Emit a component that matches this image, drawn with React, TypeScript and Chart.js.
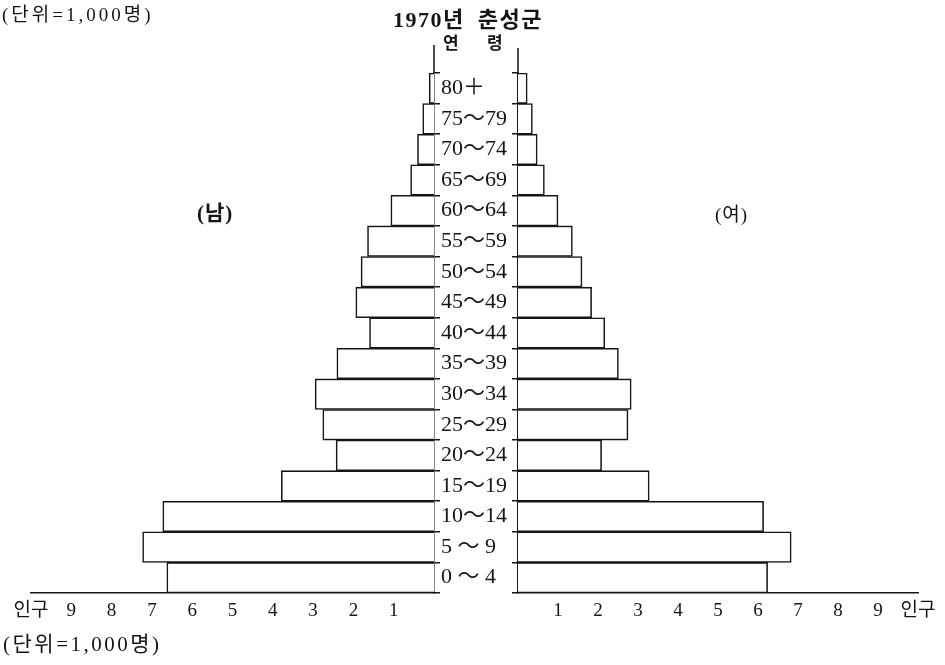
import React, { useEffect, useRef } from "react";
import { Chart, registerables } from "chart.js";
Chart.register(...registerables);

const ageGroups = [
  "0 ～ 4", "5 ～ 9", "10～14", "15～19", "20～24", "25～29", "30～34", "35～39",
  "40～44", "45～49", "50～54", "55～59", "60～64", "65～69", "70～74", "75～79", "80＋",
];
// 단위: 1,000명
const maleValues = [6.63, 7.23, 6.73, 3.79, 2.43, 2.76, 2.95, 2.41, 1.6, 1.94, 1.81, 1.65, 1.07, 0.58, 0.41, 0.28, 0.12];
const femaleValues = [6.24, 6.83, 6.14, 3.28, 2.09, 2.75, 2.83, 2.51, 2.17, 1.84, 1.6, 1.36, 1.0, 0.66, 0.48, 0.36, 0.23];
const xTickLabels = ["", "1", "2", "3", "4", "5", "6", "7", "8", "9", "인구"];

const FONT = "'Liberation Serif', 'Noto Sans CJK KR', serif";
const INK = "#151515";
const W = 945;
const H = 665;

const axisExtension = {
  id: "axisExtension",
  afterDraw(chart: any, _args: any, opts: any) {
    const { ctx, chartArea } = chart;
    const x = opts.side === "right" ? chartArea.right : chartArea.left;
    ctx.save();
    ctx.strokeStyle = INK;
    ctx.lineWidth = 1.5;
    ctx.beginPath();
    ctx.moveTo(x, opts.top);
    ctx.lineTo(x, chartArea.top);
    ctx.stroke();
    ctx.restore();
  },
};

function makeOptions(side: "left" | "right"): any {
  const isLeft = side === "left";
  return {
    indexAxis: "y",
    animation: false,
    responsive: false,
    devicePixelRatio: 1,
    layout: {
      padding: isLeft
        ? { left: 31, right: W - 434 - 10, top: 73, bottom: 0 }
        : { left: 441, right: 27, top: 73, bottom: 0 },
    },
    plugins: {
      legend: { display: false },
      tooltip: { enabled: false },
      title: { display: false },
      axisExtension: { side: isLeft ? "right" : "left", top: isLeft ? 45 : 48 },
    },
    datasets: {
      bar: { barPercentage: 1, categoryPercentage: 1 },
    },
    scales: {
      x: {
        type: "linear",
        reverse: isLeft,
        min: 0,
        max: 10,
        grid: { display: false },
        border: { display: true, color: INK, width: 1.5 },
        ticks: {
          stepSize: 1,
          autoSkip: false,
          maxRotation: 0,
          padding: -1,
          color: INK,
          font: { family: FONT, size: 19 },
          callback: (v: number) => xTickLabels[Math.round(v)] ?? "",
        },
        afterFit: (s: any) => {
          s.height = 72;
        },
      },
      y: {
        type: "category",
        position: isLeft ? "right" : "left",
        reverse: true,
        offset: true,
        grid: {
          display: true,
          drawOnChartArea: false,
          drawTicks: true,
          tickLength: 6,
          offset: true,
          color: INK,
          lineWidth: 1.5,
        },
        border: { display: true, color: INK, width: 1.5 },
        ticks: isLeft
          ? { display: false }
          : {
              display: true,
              crossAlign: "far",
              padding: 0,
              color: INK,
              font: { family: FONT, size: 22 },
            },
        afterFit: (s: any) => {
          s.width = isLeft ? 10 : 77;
        },
      },
    },
  };
}

function PyramidSide({ side }: { side: "left" | "right" }) {
  const ref = useRef<HTMLCanvasElement | null>(null);
  useEffect(() => {
    if (!ref.current) return;
    const values = side === "left" ? maleValues : femaleValues;
    const chart = new Chart(ref.current, {
      type: "bar",
      data: {
        labels: ageGroups,
        datasets: [
          {
            label: side === "left" ? "남" : "여",
            data: values,
            backgroundColor: "#ffffff",
            borderColor: INK,
            borderWidth: 1.6,
          },
        ],
      },
      options: makeOptions(side),
      plugins: [axisExtension as any],
    });
    return () => chart.destroy();
  }, [side]);
  return (
    <canvas
      ref={ref}
      width={W}
      height={H}
      style={{ position: "absolute", left: 0, top: 0, width: W, height: H }}
    />
  );
}

const txt = (extra: React.CSSProperties): React.CSSProperties => ({
  position: "absolute",
  fontFamily: FONT,
  color: INK,
  whiteSpace: "nowrap",
  lineHeight: 1,
  ...extra,
});

export default function App() {
  return (
    <div
      style={{
        position: "fixed",
        left: 0,
        top: 0,
        width: W,
        height: H,
        background: "#fff",
        overflow: "hidden",
      }}
    >
      <PyramidSide side="left" />
      <PyramidSide side="right" />
      <div style={txt({ left: 2, top: 5, fontSize: 19, letterSpacing: 3 })}>(단위=1,000명)</div>
      <div
        style={txt({
          left: 393,
          top: 9,
          fontSize: 22,
          fontWeight: "bold",
          letterSpacing: 1.5,
          wordSpacing: 6,
        })}
      >
        1970년 춘성군
      </div>
      <div style={txt({ left: 443, top: 35, fontSize: 17, fontWeight: "bold", wordSpacing: 24 })}>
        연 령
      </div>
      <div style={txt({ left: 197, top: 203, fontSize: 21, fontWeight: "bold", letterSpacing: 1 })}>(남)</div>
      <div style={txt({ left: 715, top: 205, fontSize: 19, letterSpacing: 1 })}>(여)</div>
      <div style={txt({ left: 3, top: 634, fontSize: 21, letterSpacing: 2.5 })}>(단위=1,000명)</div>
    </div>
  );
}
